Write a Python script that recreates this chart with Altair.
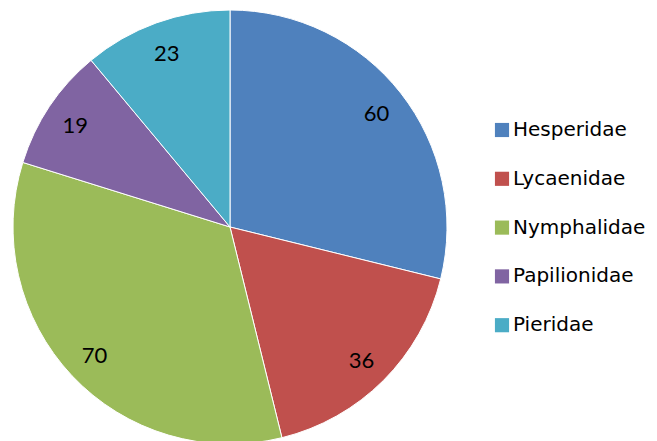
import altair as alt
import pandas as pd

families = ["Hesperidae", "Lycaenidae", "Nymphalidae", "Papilionidae", "Pieridae"]
counts = [60, 36, 70, 19, 23]
colors = ["#4F81BD", "#C0504D", "#9BBB59", "#8064A2", "#4BACC6"]

df = pd.DataFrame({"family": families, "count": counts, "order": list(range(len(families)))})

CX, CY, R = 222, 219, 217

base = alt.Chart(df).encode(
    theta=alt.Theta("count:Q", stack=True),
    order=alt.Order("order:Q"),
)

pie = base.mark_arc(radius=R, stroke="white", strokeWidth=1).encode(
    x=alt.value(CX), y=alt.value(CY),
    color=alt.Color(
        "family:N",
        scale=alt.Scale(domain=families, range=colors),
        legend=alt.Legend(
            title=None, orient="none", legendX=484, legendY=112,
            symbolType="square", symbolSize=200, symbolStrokeWidth=0,
            labelFont="DejaVu Sans", labelFontSize=20, labelColor="#000000",
            labelOffset=1, rowPadding=28.8, labelLimit=300,
        ),
    ),
)

labels = base.mark_text(radius=186, dy=2, font="Lato", fontSize=22, color="#000000").encode(
    x=alt.value(CX), y=alt.value(CY),
    text="count:Q",
)

chart = (pie + labels).properties(
    width=641, height=433, padding=0,
    autosize=alt.AutoSizeParams(type="none"),
).configure_view(stroke=None)

chart.save("out.html", embed_options={"renderer": "svg", "actions": False})
